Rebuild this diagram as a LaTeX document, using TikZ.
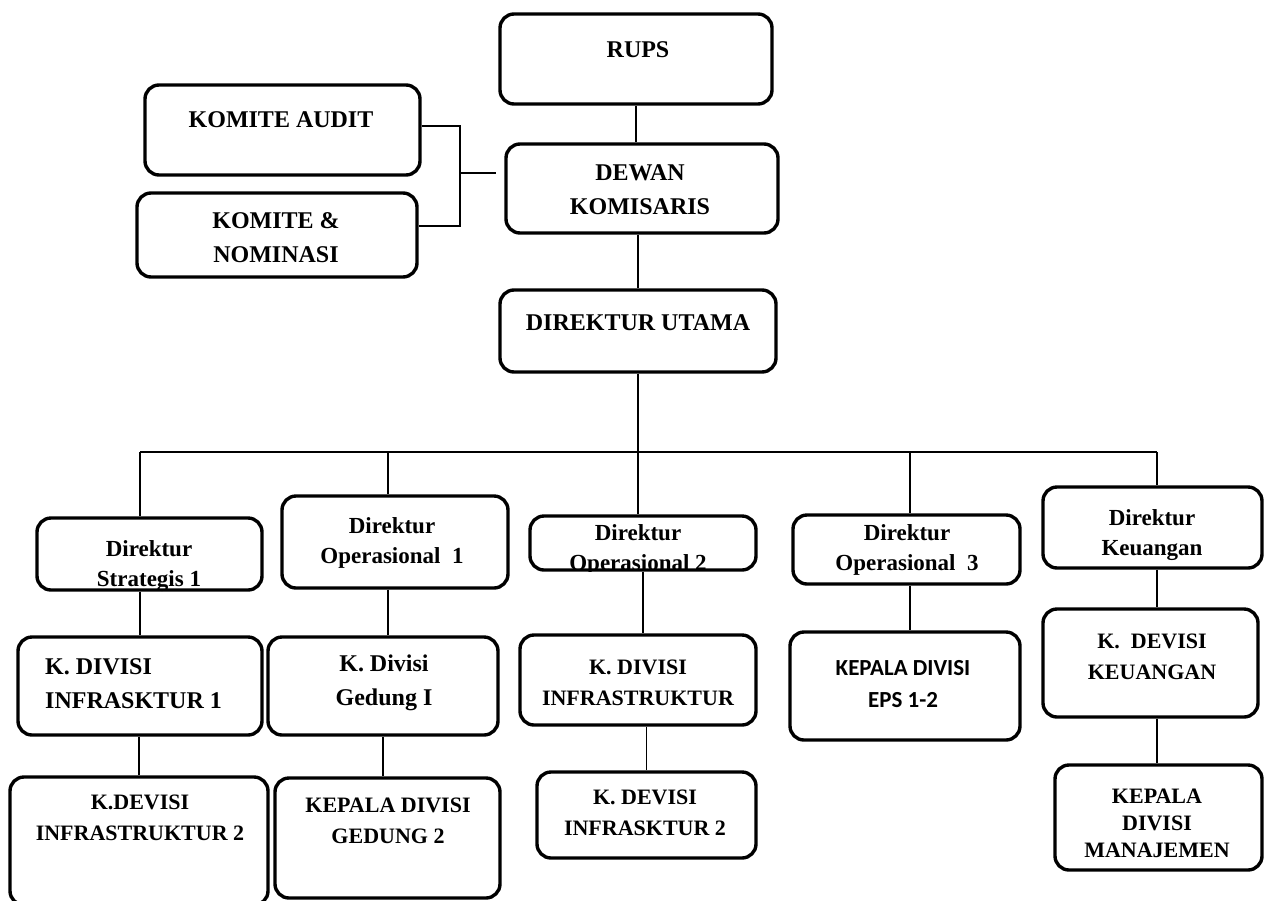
\documentclass[tikz,border=0pt]{standalone}
\usepackage{fontspec}
\usetikzlibrary{calc}
\setmainfont{Liberation Serif}
\newfontfamily\calib{Carlito}
\begin{document}
\begin{tikzpicture}[x=1pt,y=-1pt,
  box/.style={draw, line width=3.4pt, rounded corners=14pt, inner sep=0pt},
  lbl/.style={font=\fontsize{22}{31}\selectfont\bfseries, align=center, inner sep=0pt},
  lblbig/.style={lbl, font=\fontsize{24}{34}\selectfont\bfseries},
  lbldir/.style={lbl, font=\fontsize{23}{30}\selectfont\bfseries},
  con/.style={line width=1.3pt}]
\useasboundingbox (0,0) rectangle (1271,900);
\clip (0,0) rectangle (1271,900);
% boxes
\node[box, minimum width=272pt, minimum height=90pt] (rups) at (636,59) {};
\node[box, minimum width=275pt, minimum height=90pt] (audit) at (282.5,130) {};
\node[box, minimum width=280pt, minimum height=84pt] (nomin) at (277,235) {};
\node[box, minimum width=272pt, minimum height=89pt] (dewan) at (642,188.5) {};
\node[box, minimum width=276pt, minimum height=82pt] (dirut) at (638,331) {};
\node[box, minimum width=225pt, minimum height=72pt] (ds1) at (149.5,554) {};
\node[box, minimum width=226pt, minimum height=92pt] (do1) at (395,542) {};
\node[box, minimum width=226pt, minimum height=54pt] (do2) at (643,543) {};
\node[box, minimum width=227pt, minimum height=69pt] (do3) at (906.5,549.5) {};
\node[box, minimum width=219pt, minimum height=81pt] (dk) at (1152.5,527.5) {};
\node[box, minimum width=244pt, minimum height=98pt] (ka1) at (140,686) {};
\node[box, minimum width=230pt, minimum height=98pt] (kg1) at (383,686) {};
\node[box, minimum width=236pt, minimum height=90pt] (ki) at (638,680) {};
\node[box, minimum width=230pt, minimum height=108pt] (keps) at (905,686) {};
\node[box, minimum width=215pt, minimum height=108pt] (kk) at (1150.5,663) {};
\node[box, minimum width=258pt, minimum height=128pt] (ka2) at (139,841) {};
\node[box, minimum width=225pt, minimum height=120pt] (kg2) at (387.5,838) {};
\node[box, minimum width=219pt, minimum height=86pt] (ki2) at (646.5,815) {};
\node[box, minimum width=207pt, minimum height=105pt] (km) at (1158.5,817.5) {};
% texts
\node[lblbig] (trups) at (638,50) {RUPS};
\node[lblbig] (taudit) at (281,120) {KOMITE AUDIT};
\node[lblbig] (tnomin) at (276,238) {KOMITE \&\\NOMINASI};
\node[lblbig] (tdewan) at (640,190) {DEWAN\\KOMISARIS};
\node[lblbig] (tdirut) at (638,323) {DIREKTUR UTAMA};
\begin{scope}
\clip (ds1.south west) rectangle (ds1.north east);
\node[lbldir] (tds1) at (149,566) {Direktur\\Strategis 1};
\end{scope}
\node[lbldir] (tdo1) at (392,543) {Direktur\\Operasional\ \ 1};
\begin{scope}
\clip (do2.south west) rectangle (do2.north east);
\node[lbldir] (tdo2) at (638,550) {Direktur\\Operasional 2};
\end{scope}
\node[lbldir] (tdo3) at (907,550) {Direktur\\Operasional\ \ 3};
\begin{scope}
\clip ($(dk.south west)+(0,-8)$) rectangle (dk.north east);
\node[lbldir] (tdk) at (1152,535) {Direktur\\Keuangan};
\end{scope}
\node[lblbig, align=left, anchor=west] (tka1) at (45,683.5) {K. DIVISI\\INFRASKTUR 1};
\node[lblbig] (tkg1) at (384,683) {K. Divisi\\Gedung I};
\node[lbl] (tki) at (638,682.5) {K. DIVISI\\INFRASTRUKTUR};
\node[lbl, font=\fontsize{23}{32}\selectfont\calib\bfseries] (tkeps) at (903,684) {KEPALA DIVISI\\EPS 1-2};
\node[lbl] (tkk) at (1152,657) {K.\ \ DEVISI\\KEUANGAN};
\node[lbl] (tka2) at (140,818) {K.DEVISI\\INFRASTRUKTUR 2};
\node[lbl] (tkg2) at (388,820.5) {KEPALA DIVISI\\GEDUNG 2};
\node[lbl] (tki2) at (645,812.5) {K. DEVISI\\INFRASKTUR 2};
\node[lbl, font=\fontsize{22}{27}\selectfont\bfseries] (tkm) at (1157,823.5) {KEPALA\\DIVISI\\MANAJEMEN};
% coordinates
\coordinate (bA) at (460,126);
\coordinate (bN) at (460,226);
\coordinate (bD) at (460,173);
\coordinate (b1) at (140,452);
\coordinate (b2) at (388,452);
\coordinate (b3) at (638,452);
\coordinate (b4) at (910,452);
\coordinate (b5) at (1157,452);
% connectors
\draw[con] (audit.east |- bA) -- (bA) -- (bN) -- (nomin.east |- bN);
\draw[con] (bD) -- ([xshift=-8pt]dewan.west |- bD);
\draw[con] (rups.south) -- (rups.south |- dewan.north);
\draw[con] (dirut.north |- dewan.south) -- (dirut.north);
\draw[con] (dirut.south) -- (b3);
\draw[con] (b1) -- (b5);
\draw[con] (b1) -- (b1 |- ds1.north);
\draw[con] (b2) -- (b2 |- do1.north);
\draw[con] (b3) -- (b3 |- do2.north);
\draw[con] (b4) -- (b4 |- do3.north);
\draw[con] (b5) -- (b5 |- dk.north);
\draw[line width=2pt] (ds1.south -| b1) -- (ka1.north -| b1);
\draw[con] (do1.south -| b2) -- (kg1.north -| b2);
\draw[con] (do2.south) -- (do2.south |- ki.north);
\draw[con] (do3.south -| b4) -- (keps.north -| b4);
\draw[con] (dk.south -| b5) -- (kk.north -| b5);
\draw[con] (ka2.north |- ka1.south) -- (ka2.north);
\draw[con] (kg1.south) -- (kg1.south |- kg2.north);
\draw[con] (ki2.north |- ki.south) -- (ki2.north);
\draw[con] (kk.south -| b5) -- (km.north -| b5);
\end{tikzpicture}
\end{document}
